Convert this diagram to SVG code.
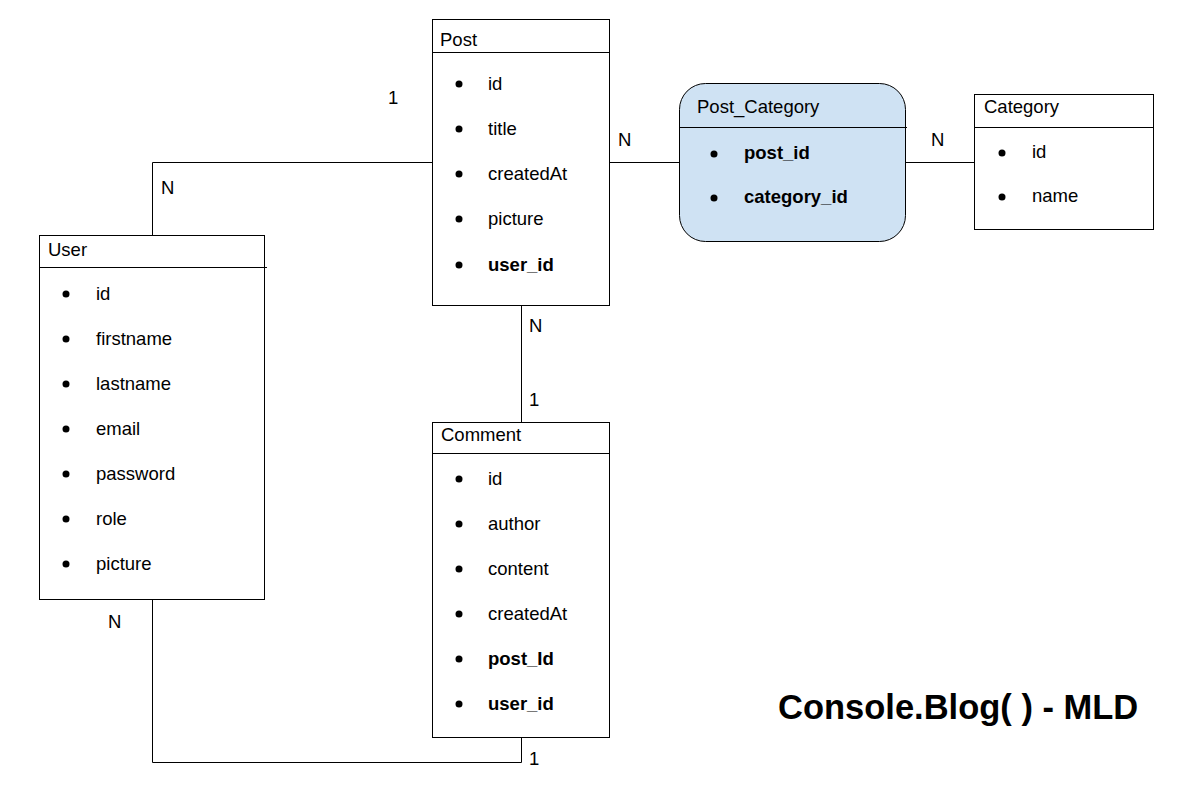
<svg xmlns="http://www.w3.org/2000/svg" width="1182" height="811" viewBox="0 0 1182 811">
<style>
text{font-family:"Liberation Sans",Arial,sans-serif;font-size:18.5px;fill:#000}
.b{font-weight:bold}
.box{fill:#fff;stroke:#000;stroke-width:1}
.ln{stroke:#000;stroke-width:1;fill:none}
.dot{fill:#000}
.title{font-size:34.5px;font-weight:bold}
</style>
<rect width="1182" height="811" fill="#fff"/>
<g id="connectors">
<polyline class="ln" points="432.5,162.5 152.5,162.5 152.5,235"/>
<line class="ln" x1="609" y1="162.5" x2="680" y2="162.5"/>
<line class="ln" x1="905" y1="162.5" x2="974" y2="162.5"/>
<line class="ln" x1="521.5" y1="305" x2="521.5" y2="422"/>
<polyline class="ln" points="152.5,599 152.5,762.5 521.5,762.5 521.5,737"/>
<text x="388" y="104">1</text>
<text x="161" y="194">N</text>
<text x="618" y="146">N</text>
<text x="931" y="146">N</text>
<text x="529" y="332">N</text>
<text x="529" y="406">1</text>
<text x="108" y="628">N</text>
<text x="529" y="765">1</text>
</g>
<g id="post">
<rect class="box" x="432.5" y="19.5" width="177" height="286"/>
<line class="ln" x1="432.5" y1="52.5" x2="609.5" y2="52.5"/>
<text x="440" y="46">Post</text>
<circle class="dot" cx="459" cy="84" r="3.5"/><text x="488" y="90">id</text>
<circle class="dot" cx="459" cy="129" r="3.5"/><text x="488" y="135">title</text>
<circle class="dot" cx="459" cy="174" r="3.5"/><text x="488" y="180">createdAt</text>
<circle class="dot" cx="459" cy="219" r="3.5"/><text x="488" y="225">picture</text>
<circle class="dot" cx="459" cy="265" r="3.5"/><text class="b" x="488" y="271">user_id</text>
</g>
<g id="post_category">
<rect x="679.5" y="83.5" width="226" height="158" rx="26" ry="26" fill="#cfe2f3" stroke="#000" stroke-width="1"/>
<line class="ln" x1="679.5" y1="127.5" x2="907" y2="127.5"/>
<text x="697" y="113">Post_Category</text>
<circle class="dot" cx="714" cy="154" r="3.5"/><text class="b" x="744" y="159">post_id</text>
<circle class="dot" cx="714" cy="198" r="3.5"/><text class="b" x="744" y="203">category_id</text>
</g>
<g id="category">
<rect class="box" x="974.5" y="94.5" width="179" height="135"/>
<line class="ln" x1="974.5" y1="127.5" x2="1153.5" y2="127.5"/>
<text x="984" y="113">Category</text>
<circle class="dot" cx="1002" cy="153" r="3.5"/><text x="1032" y="158">id</text>
<circle class="dot" cx="1002" cy="197" r="3.5"/><text x="1032" y="202">name</text>
</g>
<g id="user">
<rect class="box" x="39.5" y="235.5" width="225" height="364"/>
<line class="ln" x1="39.5" y1="267.5" x2="267" y2="267.5"/>
<text x="48" y="256">User</text>
<circle class="dot" cx="66" cy="294" r="3.5"/><text x="96" y="300">id</text>
<circle class="dot" cx="66" cy="339" r="3.5"/><text x="96" y="345">firstname</text>
<circle class="dot" cx="66" cy="384" r="3.5"/><text x="96" y="390">lastname</text>
<circle class="dot" cx="66" cy="429" r="3.5"/><text x="96" y="435">email</text>
<circle class="dot" cx="66" cy="474" r="3.5"/><text x="96" y="480">password</text>
<circle class="dot" cx="66" cy="519" r="3.5"/><text x="96" y="525">role</text>
<circle class="dot" cx="66" cy="564" r="3.5"/><text x="96" y="570">picture</text>
</g>
<g id="comment">
<rect class="box" x="432.5" y="422.5" width="177" height="315"/>
<line class="ln" x1="432.5" y1="453.5" x2="609.5" y2="453.5"/>
<text x="441" y="441">Comment</text>
<circle class="dot" cx="459" cy="479" r="3.5"/><text x="488" y="485">id</text>
<circle class="dot" cx="459" cy="524" r="3.5"/><text x="488" y="530">author</text>
<circle class="dot" cx="459" cy="569" r="3.5"/><text x="488" y="575">content</text>
<circle class="dot" cx="459" cy="614" r="3.5"/><text x="488" y="620">createdAt</text>
<circle class="dot" cx="459" cy="659" r="3.5"/><text class="b" x="488" y="665">post_Id</text>
<circle class="dot" cx="459" cy="704" r="3.5"/><text class="b" x="488" y="710">user_id</text>
</g>
<g id="title">
<text class="title" x="778" y="719">Console.Blog( ) - MLD</text>
</g>
</svg>
